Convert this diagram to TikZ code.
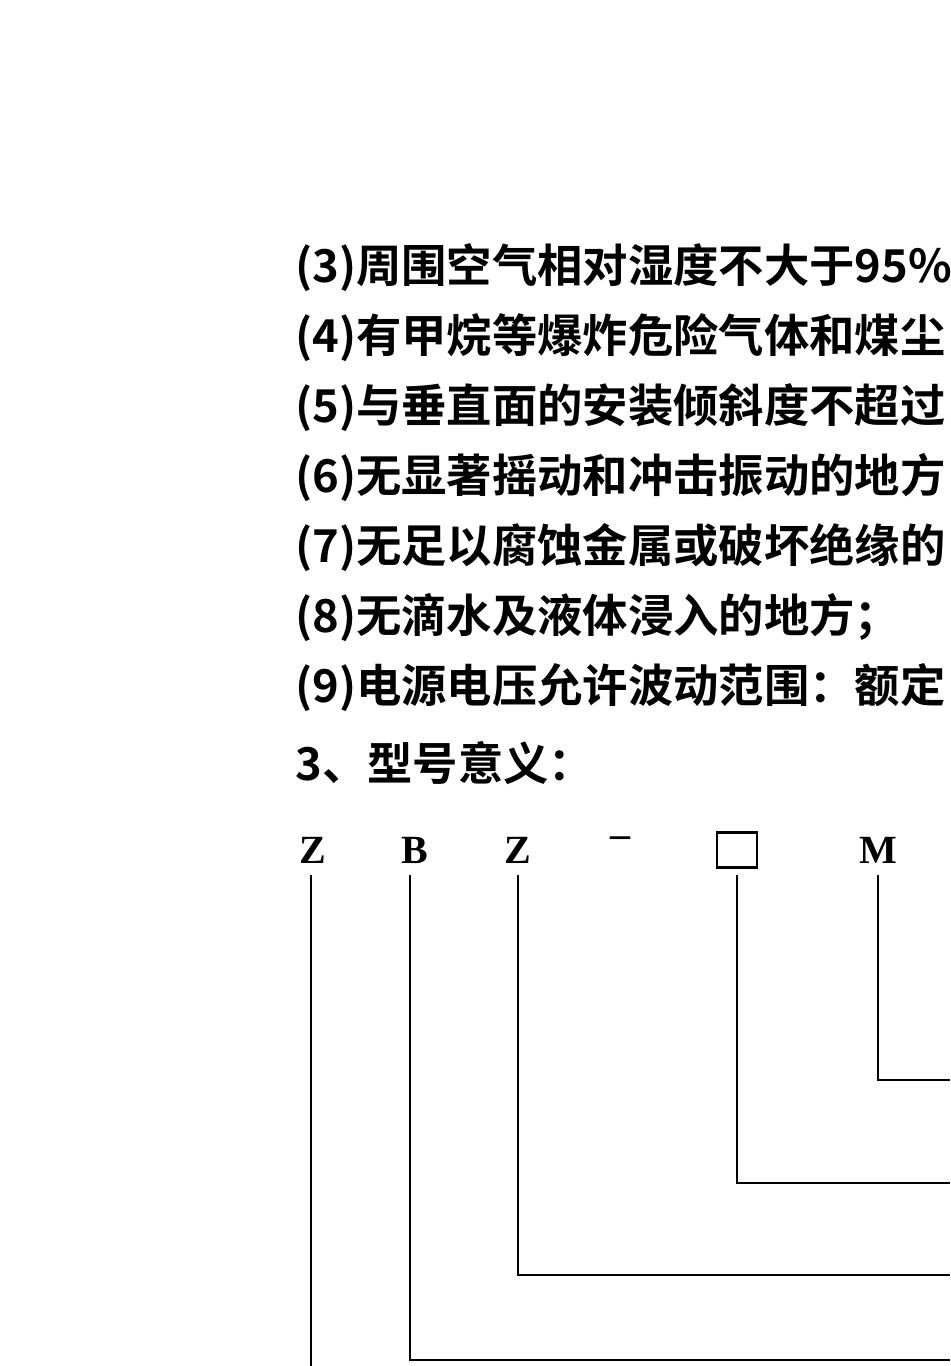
\documentclass[tikz,border=0pt]{standalone}
\usepackage{fontspec}
\setmainfont{Liberation Serif}
\newfontfamily\cjk{Noto Sans CJK SC Bold}
\begin{document}
\begin{tikzpicture}[x=0.75pt,y=-0.75pt,
  txt/.style={anchor=west,inner sep=0pt,font=\fontsize{34}{34}\selectfont\cjk},
  let/.style={inner sep=0pt,font=\fontsize{30}{30}\selectfont\bfseries},
  ln/.style={line width=2.2pt}]
\useasboundingbox (0,0) rectangle (950,1366);
\clip (0,0) rectangle (950,1366);
\fill[white] (0,0) rectangle (950,1366);
\node[txt] (l3) at (295,268) {(3)周围空气相对湿度不大于95\%};
\node[txt] (l4) at (295,338) {(4)有甲烷等爆炸危险气体和煤尘};
\node[txt] (l5) at (295,408) {(5)与垂直面的安装倾斜度不超过};
\node[txt] (l6) at (295,478) {(6)无显著摇动和冲击振动的地方};
\node[txt] (l7) at (295,548) {(7)无足以腐蚀金属或破坏绝缘的};
\node[txt] (l8) at (295,618) {(8)无滴水及液体浸入的地方；};
\node[txt] (l9) at (295,688) {(9)电源电压允许波动范围：额定};
\node[txt] (l10) at (295,763) {3、型号意义：};
\node[let] (z1) at (313,850) {Z};
\node[let] (b) at (415,850) {B};
\node[let] (z2) at (518,850) {Z};
\node[let] (dash) at (620,842) {--};
\node[draw,line width=2pt,minimum width=30pt,minimum height=26pt,inner sep=0pt] (box) at (737,850) {};
\node[let] (m) at (878,850) {M};
\coordinate (e1) at (950,1360);
\coordinate (e2) at (950,1275);
\coordinate (e3) at (950,1183);
\coordinate (e4) at (950,1080);
\coordinate (e0) at (311,1366);
\draw[ln] (311,875) -- (e0);
\draw[ln] (410,875) |- (e1);
\draw[ln] (518,875) |- (e2);
\draw[ln] (737,875) |- (e3);
\draw[ln] (878,875) |- (e4);
\end{tikzpicture}
\end{document}
